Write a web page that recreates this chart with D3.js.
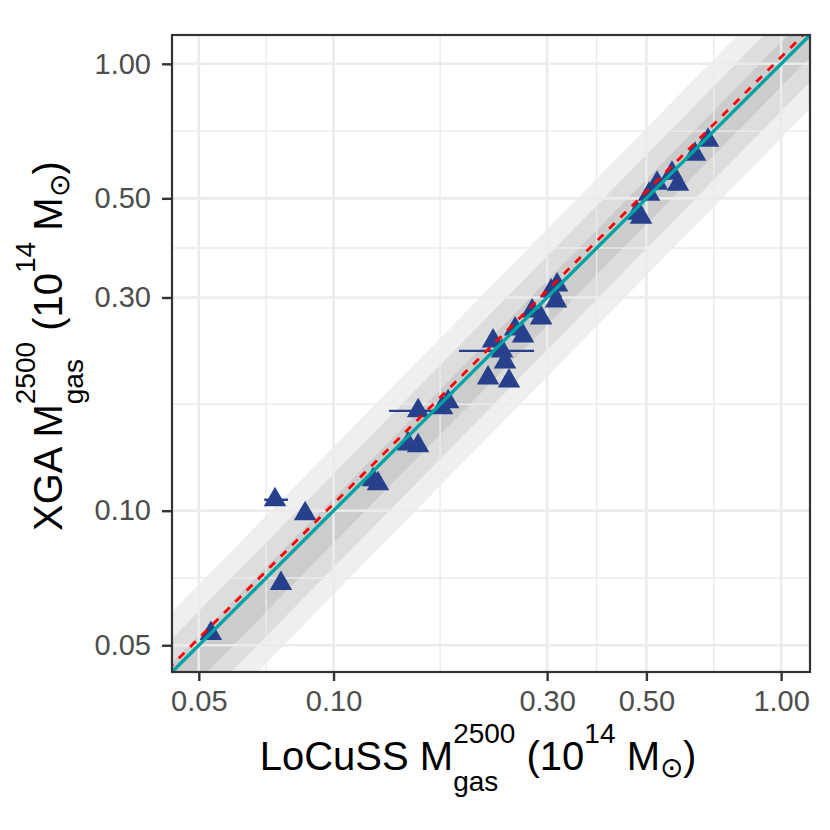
<!DOCTYPE html>
<html>
<head>
<meta charset="utf-8">
<script src="https://cdn.jsdelivr.net/npm/d3@7"></script>
<style>
  body { margin: 0; background: #fff; }
  text { font-family: "Liberation Sans", Arial, Helvetica, sans-serif; white-space: pre; }
</style>
</head>
<body>
<div id="wrapper"></div>
<script>
// Gas masses inside r2500, units of 1e14 Msun
const locussMgas = [0.0532, 0.0740, 0.0763, 0.0864, 0.1225, 0.1257, 0.1545, 0.1467,
  0.1545, 0.1748, 0.1803, 0.2214, 0.2466, 0.2416, 0.2379, 0.2272, 0.2545, 0.2651,
  0.2777, 0.2909, 0.3062, 0.3158, 0.3142, 0.4765, 0.4864, 0.5069, 0.5281, 0.5704,
  0.5883, 0.6422, 0.6866];
const xgaMgas = [0.0531, 0.1058, 0.0687, 0.0985, 0.1173, 0.1149, 0.1673, 0.1411,
  0.1397, 0.1699, 0.1752, 0.1982, 0.1952, 0.2152, 0.2278, 0.2398, 0.2551, 0.2460,
  0.2798, 0.2699, 0.3101, 0.3199, 0.2946, 0.4633, 0.4538, 0.5108, 0.5405, 0.5691,
  0.5378, 0.6277, 0.6743];

// horizontal error bars that stick out of the markers
const errIndex = [1, 6, 14];
const errLow = [0.0700, 0.1331, 0.1907];
const errHigh = [0.0791, 0.1668, 0.2805];

// 1:1 line and the dashed relation
const lineX = [0.03, 1.5];
const oneToOneY = [0.03, 1.5];
const fitY = [0.0311, 1.553];

// scatter bands, widest first: lower / upper edge values at lineX ends
const bandLow = [[0.0190, 1.0313], [0.02182, 1.184], [0.02475, 1.344]];
const bandHigh = [[0.04062, 2.205], [0.03538, 1.920], [0.03117, 1.692]];
const bandColors = ["#efefef", "#dddddd", "#cccccc"];

const tickValues = [0.05, 0.1, 0.3, 0.5, 1.0];
const tickLabels = ["0.05", "0.10", "0.30", "0.50", "1.00"];
const minorValues = [0.0707, 0.173, 0.387, 0.707];
const axisDomain = [0.04356, 1.16];

const dimensions = {
  width: 830,
  height: 830,
  margin: { top: 35, right: 20, bottom: 158, left: 172 },
};
dimensions.boundedWidth = dimensions.width - dimensions.margin.left - dimensions.margin.right;
dimensions.boundedHeight = dimensions.height - dimensions.margin.top - dimensions.margin.bottom;

const svg = d3.select("#wrapper")
  .append("svg")
  .attr("width", dimensions.width)
  .attr("height", dimensions.height)
  .style("background", "#fff");

const bounds = svg.append("g")
  .attr("transform", `translate(${dimensions.margin.left},${dimensions.margin.top})`);

const xScale = d3.scaleLog().domain(axisDomain).range([0, dimensions.boundedWidth]);
const yScale = d3.scaleLog().domain(axisDomain).range([dimensions.boundedHeight, 0]);

bounds.append("clipPath").attr("id", "panel")
  .append("rect")
  .attr("width", dimensions.boundedWidth)
  .attr("height", dimensions.boundedHeight);

const panel = bounds.append("g").attr("clip-path", "url(#panel)");

// bands
const bandArea = d3.area()
  .x((d) => xScale(d[0]))
  .y0((d) => yScale(d[1]))
  .y1((d) => yScale(d[2]));

panel.selectAll(".band")
  .data(bandColors)
  .join("path")
  .attr("class", "band")
  .attr("d", (c, i) => bandArea(d3.zip(lineX, bandLow[i], bandHigh[i])))
  .attr("fill", (c) => c);

// grid
const grid = panel.append("g").attr("stroke", "#ebebeb").attr("fill", "none");
minorValues.forEach((v) => {
  grid.append("line").attr("x1", xScale(v)).attr("x2", xScale(v))
    .attr("y1", 0).attr("y2", dimensions.boundedHeight).attr("stroke-width", 1.4);
  grid.append("line").attr("y1", yScale(v)).attr("y2", yScale(v))
    .attr("x1", 0).attr("x2", dimensions.boundedWidth).attr("stroke-width", 1.4);
});
tickValues.forEach((v) => {
  grid.append("line").attr("x1", xScale(v)).attr("x2", xScale(v))
    .attr("y1", 0).attr("y2", dimensions.boundedHeight).attr("stroke-width", 2.6);
  grid.append("line").attr("y1", yScale(v)).attr("y2", yScale(v))
    .attr("x1", 0).attr("x2", dimensions.boundedWidth).attr("stroke-width", 2.6);
});

const pointColor = "#27408b";

// error bars
panel.selectAll(".errbar")
  .data(errIndex)
  .join("line")
  .attr("class", "errbar")
  .attr("x1", (d, i) => xScale(errLow[i]))
  .attr("x2", (d, i) => xScale(errHigh[i]))
  .attr("y1", (d) => yScale(xgaMgas[d]))
  .attr("y2", (d) => yScale(xgaMgas[d]))
  .attr("stroke", pointColor)
  .attr("stroke-width", 2.4);

// filled triangles (R pch 17 geometry)
const r = 13;
const triangle = `M0,${-r}L${0.866 * r},${r / 2}L${-0.866 * r},${r / 2}Z`;
panel.selectAll(".pt")
  .data(locussMgas)
  .join("path")
  .attr("class", "pt")
  .attr("d", triangle)
  .attr("transform", (d, i) => `translate(${xScale(d)},${yScale(xgaMgas[i])})`)
  .attr("fill", pointColor);

// lines
const line = d3.line().x((d) => xScale(d[0])).y((d) => yScale(d[1]));
panel.append("path")
  .attr("d", line(d3.zip(lineX, oneToOneY)))
  .attr("stroke", "#00a3a3")
  .attr("stroke-width", 3.4)
  .attr("fill", "none");
panel.append("path")
  .attr("d", line(d3.zip(lineX, fitY)))
  .attr("stroke", "#ff0000")
  .attr("stroke-width", 2.8)
  .attr("stroke-dasharray", "8,8")
  .attr("fill", "none");

// border
bounds.append("rect")
  .attr("width", dimensions.boundedWidth)
  .attr("height", dimensions.boundedHeight)
  .attr("fill", "none")
  .attr("stroke", "#333333")
  .attr("stroke-width", 2.2);

// axes
const xAxis = bounds.append("g")
  .attr("transform", `translate(0,${dimensions.boundedHeight})`)
  .call(d3.axisBottom(xScale).tickValues(tickValues)
    .tickFormat((d, i) => tickLabels[i]).tickSizeOuter(0).tickSize(9).tickPadding(9));
const yAxis = bounds.append("g")
  .call(d3.axisLeft(yScale).tickValues(tickValues)
    .tickFormat((d, i) => tickLabels[i]).tickSizeOuter(0).tickSize(10).tickPadding(11));

[xAxis, yAxis].forEach((ax) => {
  ax.select(".domain").remove();
  ax.selectAll(".tick line").attr("stroke", "#333333").attr("stroke-width", 2.4);
  ax.selectAll(".tick text")
    .attr("fill", "#4d4d4d")
    .style("font-size", "29px")
    .style("font-family", '"Liberation Sans", Arial, sans-serif');
});

// titles with stacked super/subscripts
function richText(parent, parts, size) {
  const g = parent.append("g");
  let x = 0;
  let held = 0;
  parts.forEach((p) => {
    const t = g.append("text")
      .attr("x", x)
      .attr("y", (p.dy || 0) * size)
      .style("font-size", `${size * (p.scale || 1)}px`)
      .attr("fill", "#000")
      .text(p.text);
    const w = t.node().getComputedTextLength();
    if (p.stack) {
      held = w;
    } else {
      x += Math.max(w, held);
      held = 0;
    }
  });
  return { g, width: x };
}

const titleParts = (name) => [
  { text: name + " M" },
  { text: "2500", scale: 0.7, dy: -0.68, stack: true },
  { text: "gas", scale: 0.7, dy: 0.52 },
  { text: " (10" },
  { text: "14", scale: 0.7, dy: -0.68 },
  { text: " M" },
  { text: "\u2299", scale: 0.7, dy: 0.18 },
  { text: ")" },
];

const xTitle = richText(svg, titleParts("LoCuSS"), 40);
xTitle.g.attr("transform", `translate(${478 - xTitle.width / 2},770)`);

const yTitle = richText(svg, titleParts("XGA"), 40);
yTitle.g.attr("transform", `translate(62,${346 + yTitle.width / 2}) rotate(-90)`);
</script>
</body>
</html>
